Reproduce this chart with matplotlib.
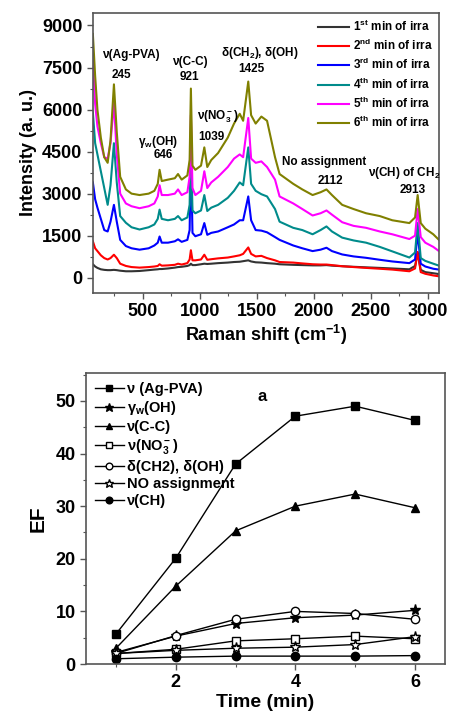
import numpy as np
import matplotlib
matplotlib.use("Agg")
import matplotlib.pyplot as plt
from matplotlib.ticker import MultipleLocator

plt.rcParams['font.family'] = ['Liberation Sans', 'DejaVu Sans']
plt.rcParams['font.weight'] = 'bold'
plt.rcParams['mathtext.fontset'] = 'custom'
plt.rcParams['mathtext.rm'] = 'Liberation Sans:bold'
plt.rcParams['mathtext.bf'] = 'Liberation Sans:bold'
plt.rcParams['mathtext.it'] = 'Liberation Sans:bold:italic'
plt.rcParams['mathtext.default'] = 'rm'

# ---- top panel: Raman spectra ----
shift = [60, 80, 100, 130, 160, 190, 215, 245, 270, 300, 350, 400, 470, 550, 600,
         630, 646, 665, 720, 780, 808, 840, 890, 910, 921, 935, 960, 1010, 1039,
         1065, 1100, 1160, 1245, 1300, 1350, 1380, 1425, 1450, 1490, 1540, 1590,
         1660, 1700, 1820, 1900, 1990, 2060, 2112, 2160, 2250, 2350, 2460, 2580,
         2690, 2840, 2890, 2913, 2940, 2980, 3050, 3100]

min1 = [480, 400, 350, 300, 280, 270, 270, 280, 270, 250, 230, 230, 240, 270, 290,
        300, 310, 310, 330, 360, 380, 390, 420, 450, 500, 450, 450, 480, 500,
        490, 500, 520, 540, 560, 570, 590, 620, 580, 550, 540, 520,
        500, 480, 460, 450, 440, 440, 450, 430, 410, 390, 370, 350,
        330, 300, 420, 880, 280, 200, 160, 130]
min2 = [1300, 1050, 950, 800, 700, 650, 700, 820, 700, 500, 420, 380, 360, 380, 400,
        420, 480, 430, 440, 460, 500, 470, 520, 650, 980, 620, 620, 650, 820,
        640, 660, 690, 720, 760, 800, 850, 1080, 850, 760, 780, 700,
        620, 560, 540, 510, 480, 470, 470, 450, 410, 380, 350, 320,
        290, 230, 330, 920, 200, 140, 80, 50]
min3 = [3400, 2800, 2500, 2100, 1700, 1650, 2000, 2600, 2000, 1350, 1130, 1050, 1000, 1050, 1150,
        1250, 1470, 1250, 1250, 1300, 1370, 1280, 1350, 1700, 4600, 1600, 1480, 1550, 1950,
        1530, 1600, 1650, 1800, 1900, 2050, 2050, 2900, 2050, 1700, 1680, 1620,
        1450, 1350, 1150, 1050, 950, 1000, 1070, 950, 830, 760, 710, 640,
        580, 520, 650, 1600, 500, 400, 320, 290]
min4 = [5900, 4800, 4400, 3800, 3200, 2600, 3300, 4800, 3400, 2200, 1960, 1800, 1720, 1800, 1900,
        2100, 2430, 2100, 2050, 2100, 2200, 2050, 2150, 2600, 4900, 2400, 2300, 2400, 2950,
        2380, 2500, 2600, 2850, 3100, 3400, 3300, 4650, 3350, 3100, 2980, 2900,
        2450, 2000, 1780, 1700, 1550, 1700, 1830, 1650, 1430, 1330, 1250, 1100,
        940, 720, 900, 1950, 700, 600, 500, 430]
min5 = [7750, 6200, 5400, 4800, 4300, 4250, 4800, 6250, 4400, 3000, 2650, 2550, 2480, 2550, 2650,
        2900, 3300, 2950, 2950, 3000, 3150, 2950, 3050, 3600, 5800, 3200, 2950, 3100, 3800,
        3200, 3400, 3600, 3950, 4250, 4400, 4300, 5700, 4250, 4100, 4150, 3950,
        3500, 2900, 2650, 2450, 2220, 2300, 2400, 2250, 1980, 1850, 1780, 1650,
        1550, 1380, 1500, 2450, 1450, 1250, 1100, 950]
min6 = [8700, 7200, 6000, 5000, 4300, 4100, 4900, 6900, 5200, 3600, 3150, 3000, 2950, 3000, 3100,
        3350, 3850, 3450, 3500, 3550, 3700, 3500, 3650, 4200, 6750, 4000, 3850, 4000, 4650,
        3950, 4200, 4450, 5000, 5500, 5850, 5600, 7000, 5800, 5500, 5750, 5600,
        4300, 3700, 3350, 3150, 2950, 3050, 3150, 2950, 2600, 2450, 2300, 2200,
        2050, 1950, 2150, 2950, 1950, 1750, 1550, 1350]

spectra = [min1, min2, min3, min4, min5, min6]
spec_labels = ['1$^{st}$ min of irra', '2$^{nd}$ min of irra', '3$^{rd}$ min of irra',
               '4$^{th}$ min of irra', '5$^{th}$ min of irra', '6$^{th}$ min of irra']
spec_colors = ['#333333', '#ff0000', '#0000ff', '#008b8b', '#ff00ff', '#808000']

peak_names = ['\u03bd(Ag-PVA)', '\u03b3$_w$(OH)', '\u03bd(C-C)', '\u03bd(NO$_3^-$)',
              '\u03b4(CH$_2$), \u03b4(OH)', 'No assignment', '\u03bd(CH) of CH$_2$']
peak_pos = ['245', '646', '921', '1039', '1425', '2112', '2913']
name_xy = [(395, 7960), (631, 4860), (912, 7710), (1158, 5750), (1526, 8030), (2087, 4140), (2798, 3720)]
pos_xy = [(307, 7250), (675, 4390), (912, 7180), (1105, 5030), (1456, 7430), (2149, 3460), (2868, 3130)]

# ---- bottom panel: enhancement factor vs time ----
time_min = [1, 2, 3, 4, 5, 6]
ef_agpva = [5.7, 20.1, 38.0, 47.1, 49.0, 46.3]
ef_gw_oh = [2.2, 5.3, 7.7, 8.8, 9.3, 10.2]
ef_cc = [3.0, 14.8, 25.3, 30.0, 32.3, 29.7]
ef_no3 = [2.0, 2.8, 4.4, 4.8, 5.3, 4.8]
ef_ch2_oh = [2.0, 5.4, 8.5, 10.0, 9.6, 8.5]
ef_noassign = [2.0, 2.6, 3.0, 3.2, 3.7, 5.2]
ef_ch = [1.0, 1.3, 1.5, 1.5, 1.5, 1.6]

ef_series = [ef_agpva, ef_gw_oh, ef_cc, ef_no3, ef_ch2_oh, ef_noassign, ef_ch]
ef_labels = ['\u03bd (Ag-PVA)', '\u03b3$_w$(OH)', '\u03bd(C-C)', '\u03bd(NO$_3^-$)',
             '\u03b4(CH2), \u03b4(OH)', 'NO assignment', '\u03bd(CH)']
ef_markers = [('s', 'k', 6), ('*', 'k', 8), ('^', 'k', 6), ('s', 'w', 6),
              ('o', 'w', 6), ('*', 'w', 8), ('o', 'k', 6)]

fig = plt.figure(figsize=(4.53, 7.16), dpi=100)

# top panel
ax1 = fig.add_axes([0.205, 0.591, 0.764, 0.391])
for y, lab, c in zip(spectra, spec_labels, spec_colors):
    ax1.plot(shift, y, color=c, lw=1.5, label=lab)
ax1.set_xlim(60, 3100)
ax1.set_ylim(-540, 9450)
ax1.xaxis.set_major_locator(MultipleLocator(500))
ax1.xaxis.set_minor_locator(MultipleLocator(250))
ax1.yaxis.set_major_locator(MultipleLocator(1500))
ax1.yaxis.set_minor_locator(MultipleLocator(750))
ax1.set_xticks([500, 1000, 1500, 2000, 2500, 3000])
ax1.set_xlabel('Raman shift (cm$^{-1}$)', fontsize=13, fontweight='bold', labelpad=2)
ax1.set_ylabel('Intensity (a. u.)', fontsize=13, fontweight='bold', labelpad=4)
for n, xy in zip(peak_names, name_xy):
    ax1.text(xy[0], xy[1], n, fontsize=8.5, ha='center', va='center', clip_on=False)
for p, xy in zip(peak_pos, pos_xy):
    ax1.text(xy[0], xy[1], p, fontsize=8.5, ha='center', va='center')
ax1.legend(loc='upper right', frameon=False, fontsize=8.5, handlelength=2.6,
           labelspacing=0.34, borderaxespad=0.1, handletextpad=0.35)

# bottom panel
ax2 = fig.add_axes([0.190, 0.0726, 0.792, 0.4064])
for y, lab, (m, fc, ms) in zip(ef_series, ef_labels, ef_markers):
    ax2.plot(time_min, y, color='k', lw=1.0, marker=m, mfc=fc, mec='k',
             ms=ms, label=lab)
ax2.set_xlim(0.5, 6.5)
ax2.set_ylim(0, 55.3)
ax2.xaxis.set_major_locator(MultipleLocator(2))
ax2.xaxis.set_minor_locator(MultipleLocator(1))
ax2.yaxis.set_major_locator(MultipleLocator(10))
ax2.yaxis.set_minor_locator(MultipleLocator(5))
ax2.set_xlabel('Time (min)', fontsize=14, fontweight='bold', labelpad=2)
ax2.set_ylabel('EF', fontsize=15, fontweight='bold', labelpad=6)
ax2.text(3.45, 50.8, 'a', fontsize=12, ha='center', va='center')
ax2.legend(loc='upper left', frameon=False, fontsize=10.5, handlelength=2.0,
           labelspacing=0.22, borderaxespad=0.3, handletextpad=0.2,
           borderpad=0.3, markerscale=0.8)

for ax in (ax1, ax2):
    for s in ax.spines.values():
        s.set_color('#555555')
        s.set_linewidth(1.2)
    ax.tick_params(which='both', direction='out', top=False, right=False,
                   labelsize=13, color='#555555')
    ax.tick_params(which='major', length=4, width=1)
    ax.tick_params(which='minor', length=2.5, width=0.8)
    for t in ax.get_xticklabels() + ax.get_yticklabels():
        t.set_fontweight('bold')

fig.savefig('out.png', dpi=100)
